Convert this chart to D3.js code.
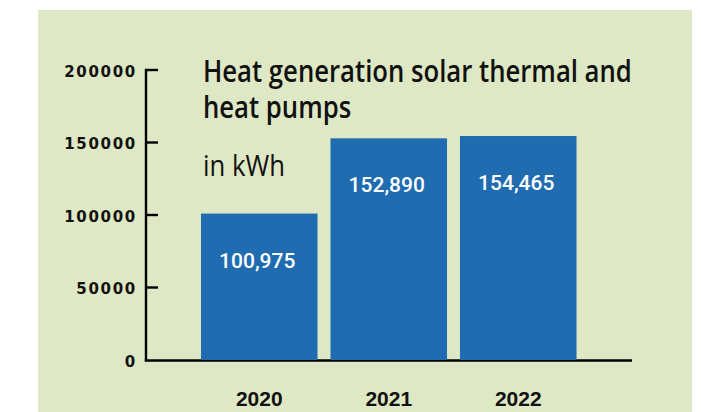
<!DOCTYPE html>
<html>
<head>
<meta charset="utf-8">
<script src="https://cdn.jsdelivr.net/npm/d3@7"></script>
<style>
  html, body { margin: 0; padding: 0; background: #ffffff; }
  svg { display: block; }
</style>
</head>
<body>
<svg id="chart" width="703" height="412"></svg>
<script>
// ---- data ----
const years = ["2020", "2021", "2022"];
const values = [100975, 152890, 154465];
const valueLabels = ["100,975", "152,890", "154,465"];
const tickValues = [0, 50000, 100000, 150000, 200000];
const tickLabels = ["0", "50000", "100000", "150000", "200000"];
const titleLines = ["Heat generation solar thermal and", "heat pumps"];
const unitLabel = "in kWh";

// ---- styles ----
const panelColor = "#dee8c4";
const barColor = "#1f6cb0";

const svg = d3.select("#chart");

// background panel
svg.append("rect")
  .attr("x", 38).attr("y", 10)
  .attr("width", 654).attr("height", 410)
  .attr("fill", panelColor);

const y = d3.scaleLinear().domain([0, 200000]).range([360, 70]);
const x = d3.scaleBand().domain(years).range([194.5, 583]).paddingInner(0.1).paddingOuter(0.05);

const axisX = 146;

// y axis line
svg.append("line")
  .attr("x1", axisX).attr("x2", axisX)
  .attr("y1", y(200000) - 1.2).attr("y2", y(0) + 1.2)
  .attr("stroke", "#000").attr("stroke-width", 2.4);

// baseline
svg.append("line")
  .attr("x1", axisX - 1.2).attr("x2", 632)
  .attr("y1", y(0) + 0.5).attr("y2", y(0) + 0.5)
  .attr("stroke", "#000").attr("stroke-width", 2.4);

// ticks
svg.selectAll(".tick").data(tickValues.filter(d => d > 0)).enter()
  .append("line")
  .attr("x1", axisX).attr("x2", axisX + 12)
  .attr("y1", d => y(d)).attr("y2", d => y(d))
  .attr("stroke", "#000").attr("stroke-width", 2.4);

// tick labels
svg.selectAll(".tl").data(tickValues).enter()
  .append("text")
  .attr("x", 137)
  .attr("y", d => y(d) + 1.5)
  .attr("dy", "0.36em")
  .attr("text-anchor", "end")
  .attr("font-family", "DejaVu Sans")
  .attr("font-weight", "bold")
  .attr("font-size", 15)
  .attr("letter-spacing", "1.7px")
  .attr("fill", "#111")
  .text((d, i) => tickLabels[i]);

// bars
svg.selectAll(".bar").data(values).enter()
  .append("rect")
  .attr("x", (d, i) => x(years[i]))
  .attr("y", d => y(d))
  .attr("width", x.bandwidth())
  .attr("height", d => y(0) - y(d))
  .attr("fill", barColor);

// value labels
svg.selectAll(".vl").data(values).enter()
  .append("text")
  .attr("x", (d, i) => x(years[i]) + x.bandwidth() / 2 - 2)
  .attr("y", d => y(d) + 54)
  .attr("text-anchor", "middle")
  .attr("font-family", "Roboto")
  .attr("font-weight", 500)
  .attr("font-size", 21)
  .attr("fill", "#ffffff")
  .text((d, i) => valueLabels[i]);

// year labels
svg.selectAll(".yl").data(years).enter()
  .append("text")
  .attr("x", d => x(d) + x.bandwidth() / 2)
  .attr("y", 406)
  .attr("text-anchor", "middle")
  .attr("font-family", "Liberation Sans, Arial")
  .attr("font-weight", "bold")
  .attr("font-size", 21)
  .attr("fill", "#111")
  .text(d => d);

// title block (condensed humanist look)
const tg = svg.append("g");
const t1 = tg.append("text")
  .attr("x", 0).attr("y", 82)
  .attr("font-family", "Open Sans")
  .attr("font-weight", 600)
  .attr("font-size", 30)
  .attr("fill", "#111")
  .text(titleLines[0]);
tg.append("text")
  .attr("x", 0).attr("y", 118)
  .attr("font-family", "Open Sans")
  .attr("font-weight", 600)
  .attr("font-size", 30)
  .attr("fill", "#111")
  .text(titleLines[1]);
tg.append("text")
  .attr("x", 0).attr("y", 176)
  .attr("font-family", "Open Sans")
  .attr("font-weight", 400)
  .attr("font-size", 30)
  .attr("fill", "#111")
  .text(unitLabel);
const w1 = t1.node().getComputedTextLength();
const sx = 429 / w1;
tg.attr("transform", `translate(203,0) scale(${sx},1)`);
</script>
</body>
</html>
